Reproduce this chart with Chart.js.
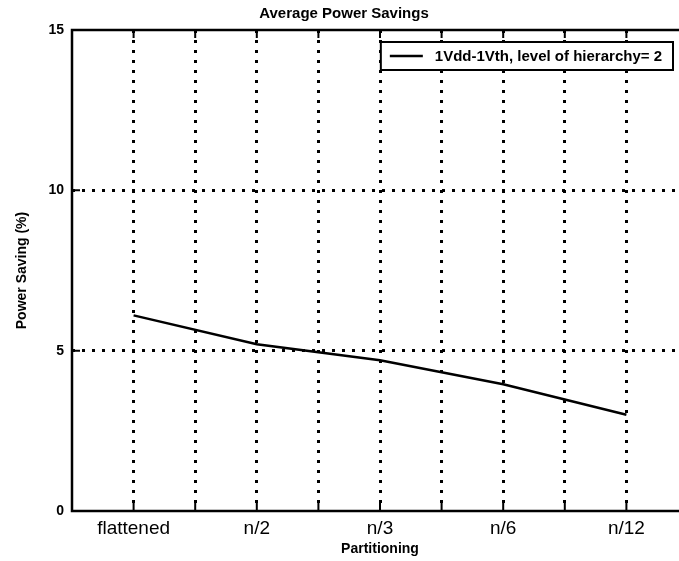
<!DOCTYPE html>
<html>
<head>
<meta charset="utf-8">
<script src="https://cdn.jsdelivr.net/npm/chart.js@4/dist/chart.umd.min.js"></script>
<style>
  html, body { margin: 0; padding: 0; background: #fff; overflow: hidden; width: 679px; height: 561px; }
  #wrap { width: 700px; height: 561px; }
</style>
</head>
<body>
<div id="wrap"><canvas id="c" width="700" height="561"></canvas></div>
<script>
// Partitioning schemes and the average power saving measured for each
const categories = ['flattened', 'n/2', 'n/3', 'n/6', 'n/12'];
const powerSaving = [6.1, 5.2, 4.7, 3.95, 3.0];
const yTicks = [0, 5, 10, 15];
const seriesLabel = '1Vdd-1Vth, level of hierarchy= 2';

// Each partitioning sits on every other unit of a 0..10 axis,
// so a dotted grid line falls both on and between the schemes.
const slotOf = i => 1 + 2 * i;
const points = powerSaving.map((v, i) => ({ x: slotOf(i), y: v }));
const labelAt = {};
categories.forEach((c, i) => { labelAt[slotOf(i)] = c; });

const AXIS_MIN = 0, AXIS_MAX = 10;

// Frame round the plot, inward tick marks and the boxed legend
const framePlugin = {
  id: 'frame',
  afterDraw(chart) {
    const { ctx, chartArea: a, scales } = chart;
    ctx.save();
    ctx.setLineDash([]);
    ctx.strokeStyle = '#000';
    ctx.lineWidth = 2.5;
    ctx.strokeRect(a.left, a.top, a.right - a.left, a.bottom - a.top);

    ctx.lineWidth = 2;
    const xs = scales.x, ys = scales.y;
    for (let v = AXIS_MIN + 1; v < AXIS_MAX; v++) {
      const px = xs.getPixelForValue(v);
      ctx.beginPath();
      ctx.moveTo(px, a.bottom); ctx.lineTo(px, a.bottom - 8);
      ctx.moveTo(px, a.top); ctx.lineTo(px, a.top + 8);
      ctx.stroke();
    }
    yTicks.slice(1, -1).forEach(v => {
      const py = ys.getPixelForValue(v);
      ctx.beginPath();
      ctx.moveTo(a.left, py); ctx.lineTo(a.left + 8, py);
      ctx.moveTo(a.right, py); ctx.lineTo(a.right - 8, py);
      ctx.stroke();
    });

    // legend
    const ds = chart.data.datasets[0];
    ctx.font = 'bold 15px "Liberation Sans", Arial, sans-serif';
    const tw = ctx.measureText(ds.label).width;
    const boxR = a.right - 15, boxT = a.top + 12, boxH = 28;
    const boxL = boxR - (tw + 54 + 11);
    ctx.fillStyle = '#fff';
    ctx.fillRect(boxL, boxT, boxR - boxL, boxH);
    ctx.lineWidth = 2;
    ctx.strokeRect(boxL, boxT, boxR - boxL, boxH);
    ctx.lineWidth = ds.borderWidth;
    ctx.beginPath();
    ctx.moveTo(boxL + 9, boxT + boxH / 2);
    ctx.lineTo(boxL + 42, boxT + boxH / 2);
    ctx.stroke();
    ctx.fillStyle = '#000';
    ctx.textBaseline = 'middle';
    ctx.fillText(ds.label, boxL + 54, boxT + boxH / 2 + 1);
    ctx.restore();
  }
};

const hideEdges = (lo, hi) => c =>
  (c.tick && (c.tick.value === lo || c.tick.value === hi)) ? 'rgba(0,0,0,0)' : '#000';

new Chart(document.getElementById('c'), {
  type: 'line',
  data: {
    datasets: [{
      label: seriesLabel,
      data: points,
      borderColor: '#000',
      borderWidth: 2.5,
      pointRadius: 0,
      tension: 0,
      fill: false
    }]
  },
  options: {
    responsive: false,
    animation: false,
    devicePixelRatio: 1,
    layout: { padding: { left: 0, right: 12, top: 0, bottom: 0 } },
    plugins: {
      legend: { display: false },
      tooltip: { enabled: false },
      title: {
        display: true,
        text: 'Average Power Savings',
        color: '#000',
        font: { family: '"Liberation Sans", Arial, sans-serif', size: 15, weight: 'bold' },
        padding: { top: 5, bottom: 7 }
      }
    },
    scales: {
      x: {
        type: 'linear',
        min: AXIS_MIN,
        max: AXIS_MAX,
        afterBuildTicks(scale) {
          const t = [];
          for (let v = AXIS_MIN; v <= AXIS_MAX; v++) t.push({ value: v });
          scale.ticks = t;
        },
        afterFit(scale) { scale.height = 50; },
        border: { display: false, dash: [3, 7] },
        grid: {
          lineWidth: 3,
          drawTicks: false,
          color: hideEdges(AXIS_MIN, AXIS_MAX)
        },
        ticks: {
          autoSkip: false,
          maxRotation: 0,
          padding: 6,
          color: '#000',
          font: { family: '"Liberation Sans", Arial, sans-serif', size: 19 },
          callback: v => labelAt[v] || ''
        },
        title: {
          display: true,
          text: 'Partitioning',
          color: '#000',
          font: { family: '"Liberation Sans", Arial, sans-serif', size: 14, weight: 'bold' },
          padding: { top: 0, bottom: 3 }
        }
      },
      y: {
        min: yTicks[0],
        max: yTicks[yTicks.length - 1],
        afterBuildTicks(scale) { scale.ticks = yTicks.map(v => ({ value: v })); },
        afterFit(scale) { scale.width = 72; },
        border: { display: false, dash: [3, 7] },
        grid: {
          lineWidth: 3,
          drawTicks: false,
          color: hideEdges(yTicks[0], yTicks[yTicks.length - 1])
        },
        ticks: {
          padding: 8,
          color: '#000',
          font: { family: '"Liberation Sans", Arial, sans-serif', size: 14, weight: 'bold' }
        },
        title: {
          display: true,
          text: 'Power Saving (%)',
          color: '#000',
          font: { family: '"Liberation Sans", Arial, sans-serif', size: 14, weight: 'bold' },
          padding: { top: 14, bottom: 0 }
        }
      }
    }
  },
  plugins: [framePlugin]
});
</script>
</body>
</html>
